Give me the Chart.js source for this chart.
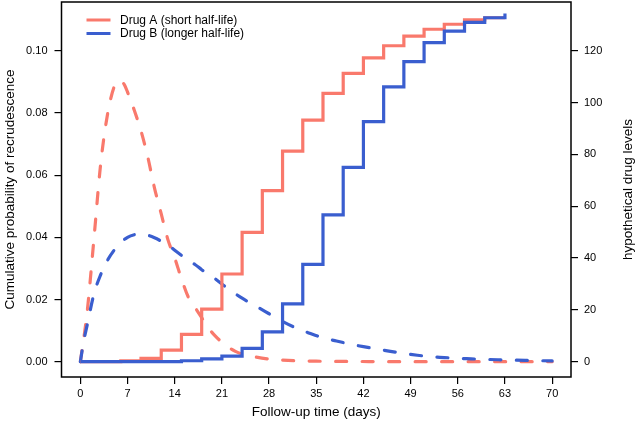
<!DOCTYPE html>
<html>
<head>
<meta charset="utf-8">
<script src="https://cdn.jsdelivr.net/npm/chart.js@4/dist/chart.umd.min.js"></script>
<style>
html,body{margin:0;padding:0;background:#fff;}
#wrap{position:relative;width:638px;height:423px;}
</style>
</head>
<body>
<div id="wrap"><canvas id="c" width="638" height="423"></canvas></div>
<script>
// ---- data ----
const seriesNames = ["Drug A (short half-life)", "Drug B (longer half-life)"];
const stepDays = [0,3,6,9,12,15,18,21,24,27,30,33,36,39,42,45,48,51,54,57,60,63];
const drugAProb = [0,0,0.0003,0.0011,0.0037,0.0088,0.0169,0.0282,0.0416,0.0550,0.0677,0.0777,0.0863,0.0927,0.0977,0.1016,0.1047,0.1069,0.1085,0.1099,0.1106,0.1106];
const drugBProb = [0,0,0,0,0,0.0003,0.0009,0.0018,0.0043,0.0096,0.0186,0.0313,0.0472,0.0625,0.0772,0.0884,0.0965,0.1026,0.1063,0.1091,0.1106,0.1120];

const levelADays = [0,1,2,3,4,5,5.8,6.5,7,8,9,10,11,12,13,14,15,16,17,18,19,20,21,22,23,24,26,28,30,35,40,50,60,70];
const levelA     = [0,19,47,76,95,106,108.5,107,104,97,89,79,67,57,47,40,32,25,21,17,13,10,7.5,5.5,4,3,1.8,1,0.6,0.2,0.1,0,0,0];
const levelBDays = [0,0.5,1,2,3,4,5,6,7,8,9,10,11,12,13,14,15,16,17,18,20,22,24,26,28,30,32,34,36,38,40,42,44,46,48,50,52,54,56,58,60,63,66,70];
const levelB     = [0,8,14,26,33.5,39,43,46,48,49,49.3,48.8,47.8,46.5,45,43,41,39,37.5,35.5,32,28,24.5,21.5,18.5,15.5,13,11,9.2,8,6.8,5.8,4.9,4,3.2,2.5,1.9,1.6,1.3,1.1,0.9,0.7,0.5,0.3];

const xTicks = [0,7,14,21,28,35,42,49,56,63,70];
const leftTicks = [0,0.02,0.04,0.06,0.08,0.10];
const leftTickLabels = ["0.00","0.02","0.04","0.06","0.08","0.10"];
const rightTicks = [0,20,40,60,80,100,120];
const rightTickLabels = ["0","20","40","60","80","100","120"];

const xTitle = "Follow-up time (days)";
const yLeftTitle = "Cumulative probability of recrudescence";
const yRightTitle = "hypothetical drug levels";

// ---- styles ----
const colA = "#F9796C";
const colB = "#3A5ECF";
const FONT = "'Liberation Sans', Arial, Helvetica, sans-serif";
const TITLE_SIZE = 13.5;

const pts = (xs, ys) => xs.map((x, i) => ({x: x, y: ys[i]}));

const boxPlugin = {
  id: 'box',
  afterDraw(chart) {
    const {ctx, chartArea: a} = chart;
    ctx.save();
    ctx.strokeStyle = '#000';
    ctx.lineWidth = 1.5;
    ctx.strokeRect(a.left, a.top, a.right - a.left, a.bottom - a.top);
    // legend
    const items = [[seriesNames[0], colA], [seriesNames[1], colB]];
    ctx.font = "12px " + FONT;
    ctx.textBaseline = 'middle';
    ctx.textAlign = 'left';
    items.forEach((it, i) => {
      const y = 20 + i * 13.5;
      ctx.strokeStyle = it[1];
      ctx.lineWidth = 3;
      ctx.lineCap = 'butt';
      ctx.beginPath();
      ctx.moveTo(86.5, y); ctx.lineTo(110.5, y);
      ctx.stroke();
      ctx.fillStyle = '#000';
      ctx.fillText(it[0], 120, y + 0.5);
    });
    // right axis title, reading bottom-to-top
    ctx.translate(628, (a.top + a.bottom) / 2);
    ctx.rotate(-Math.PI / 2);
    ctx.font = TITLE_SIZE + "px " + FONT;
    ctx.textAlign = 'center';
    ctx.textBaseline = 'middle';
    ctx.fillText(yRightTitle, 0, 0);
    ctx.restore();
  }
};

const tickStyle = {color: '#000', font: {family: FONT, size: 11}};
const noPadV = s => { s.paddingTop = 0; s.paddingBottom = 0; };

new Chart(document.getElementById('c'), {
  type: 'line',
  data: {
    datasets: [
      {label: seriesNames[1], data: pts(stepDays, drugBProb), yAxisID: 'y', stepped: 'before',
       borderColor: colB, borderWidth: 3.2, pointRadius: 0, fill: false, order: 1},
      {label: seriesNames[0], data: pts(stepDays, drugAProb), yAxisID: 'y', stepped: 'before',
       borderColor: colA, borderWidth: 3.2, pointRadius: 0, fill: false, order: 2},
      {label: 'levelB', data: pts(levelBDays, levelB), yAxisID: 'y2', cubicInterpolationMode: 'monotone',
       borderColor: colB, borderWidth: 3.2, borderDash: [11, 15.5], borderCapStyle: 'round',
       pointRadius: 0, fill: false, order: 3},
      {label: 'levelA', data: pts(levelADays, levelA), yAxisID: 'y2', cubicInterpolationMode: 'monotone',
       borderColor: colA, borderWidth: 3.2, borderDash: [11, 15.5], borderCapStyle: 'round',
       pointRadius: 0, fill: false, order: 4}
    ]
  },
  options: {
    responsive: false,
    animation: false,
    events: [],
    layout: {padding: {top: 2, left: 0, right: 0, bottom: 0}},
    plugins: {legend: {display: false}, tooltip: {enabled: false}},
    scales: {
      x: {
        type: 'linear', min: -2.8, max: 72.8,
        afterBuildTicks: s => { s.ticks = xTicks.map(v => ({value: v})); },
        afterFit: s => { s.height = 46; s.paddingLeft = 0; s.paddingRight = 0; },
        grid: {drawOnChartArea: false, drawTicks: true, tickLength: 7, color: '#000', lineWidth: 1.2},
        border: {display: false},
        ticks: Object.assign({padding: 3, maxRotation: 0, autoSkip: false,
                callback: v => String(v)}, tickStyle),
        title: {display: true, text: xTitle, color: '#000', font: {family: FONT, size: TITLE_SIZE}, padding: {top: 0, bottom: 3}}
      },
      y: {
        position: 'left', min: -0.00492, max: 0.11566,
        afterBuildTicks: s => { s.ticks = leftTicks.map(v => ({value: v})); },
        afterFit: s => { s.width = 61.5; noPadV(s); },
        grid: {drawOnChartArea: false, drawTicks: true, tickLength: 7, color: '#000', lineWidth: 1.2},
        border: {display: false},
        ticks: Object.assign({padding: 7, autoSkip: false,
                callback: (v) => leftTickLabels[leftTicks.indexOf(v)]}, tickStyle),
        title: {display: true, text: yLeftTitle, color: '#000', font: {family: FONT, size: TITLE_SIZE}, padding: {top: 2, bottom: 0}}
      },
      y2: {
        position: 'right', min: -5.90, max: 138.77,
        afterBuildTicks: s => { s.ticks = rightTicks.map(v => ({value: v})); },
        afterFit: s => { s.width = 67; noPadV(s); },
        grid: {drawOnChartArea: false, drawTicks: true, tickLength: 7, color: '#000', lineWidth: 1.2},
        border: {display: false},
        ticks: Object.assign({padding: 6, autoSkip: false,
                callback: (v) => rightTickLabels[rightTicks.indexOf(v)]}, tickStyle),
        title: {display: false}
      }
    }
  },
  plugins: [boxPlugin]
});
</script>
</body>
</html>
